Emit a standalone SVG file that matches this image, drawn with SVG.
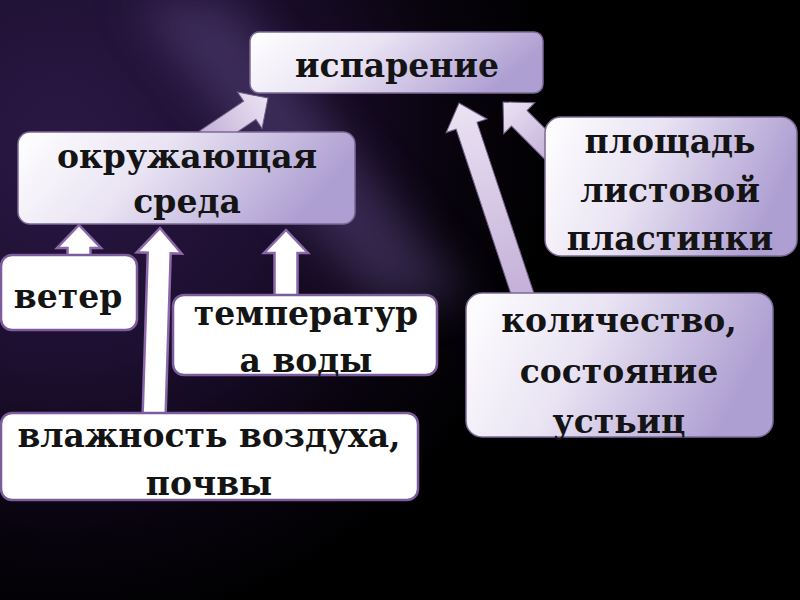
<svg xmlns="http://www.w3.org/2000/svg" width="800" height="600" viewBox="0 0 800 600">
  <defs>
    <radialGradient id="bg" gradientUnits="userSpaceOnUse" cx="60" cy="140" r="500">
      <stop offset="0" stop-color="#2a1844"/>
      <stop offset="0.45" stop-color="#1d0f30"/>
      <stop offset="0.8" stop-color="#07030c"/>
      <stop offset="1" stop-color="#000000"/>
    </radialGradient>
    <filter id="blur" x="-50%" y="-50%" width="200%" height="200%">
      <feGaussianBlur stdDeviation="22"/>
    </filter>
    <linearGradient id="lav" x1="0" y1="0" x2="1" y2="0.25">
      <stop offset="0" stop-color="#ffffff"/>
      <stop offset="0.45" stop-color="#e9e3f3"/>
      <stop offset="1" stop-color="#ae9fd2"/>
    </linearGradient>
    <linearGradient id="arr" x1="0" y1="0" x2="1" y2="0">
      <stop offset="0" stop-color="#c4afd8"/>
      <stop offset="1" stop-color="#ebe3f3"/>
    </linearGradient>
    <style>
      .lbox { fill: url(#lav); stroke: #7c6a96; stroke-width: 1.5; }
      .wbox { fill: #ffffff; stroke: #7d5c9c; stroke-width: 2.5; }
      .la { fill: url(#arr); stroke: #6e5d86; stroke-width: 1; }
      .wa { fill: #ffffff; stroke: #8a68aa; stroke-width: 2.5; stroke-linejoin: miter; }
      text { font-family: "DejaVu Serif", "Liberation Serif", serif; font-weight: bold; font-size: 33px; fill: #141414; text-anchor: middle; }
    </style>
  </defs>

  <!-- background -->
  <rect x="0" y="0" width="800" height="600" fill="#000"/>
  <rect x="0" y="0" width="800" height="600" fill="url(#bg)"/>
  <polygon points="130,0 230,0 470,300 370,300" fill="#5a4680" opacity="0.5" filter="url(#blur)"/>

  <!-- connectors -->
  <g id="connectors">
    <polygon class="la" transform="translate(268,98) rotate(-34)" points="0,0 -22,-22 -22,-11 -75,-11 -75,11 -22,11 -22,22"/>
    <polygon class="la" transform="translate(503,102) rotate(-135)" points="0,0 -23,-22 -23,-11 -75,-11 -75,11 -23,11 -23,22"/>
    <polygon class="la" transform="translate(459,103) rotate(-108.4)" points="0,0 -24,-21.5 -24,-11 -205,-11 -205,11 -24,11 -24,21.5"/>
    <polygon class="wa" transform="translate(79,225) rotate(-90)" points="0,0 -23,-22 -23,-11.5 -40,-11.5 -40,11.5 -23,11.5 -23,22"/>
    <polygon class="wa" transform="translate(160,228) rotate(-88.2)" points="0,0 -25,-22.5 -25,-11.5 -195,-11.5 -195,11.5 -25,11.5 -25,22.5"/>
    <polygon class="wa" transform="translate(286,230) rotate(-90)" points="0,0 -23,-22 -23,-11.5 -75,-11.5 -75,11.5 -23,11.5 -23,22"/>
  </g>

  <!-- nodes -->
  <g id="isparenie">
    <rect class="lbox" x="250" y="32" width="293" height="61" rx="9"/>
    <text x="397" y="77">испарение</text>
  </g>
  <g id="okruzhayushchaya-sreda">
    <rect class="lbox" x="18" y="132" width="337" height="92" rx="12"/>
    <text x="187" y="168">окружающая</text>
    <text x="187" y="213">среда</text>
  </g>
  <g id="ploshchad">
    <rect class="lbox" x="545" y="117" width="252" height="139" rx="16"/>
    <text x="670" y="153">площадь</text>
    <text x="670" y="202">листовой</text>
    <text x="670" y="250">пластинки</text>
  </g>
  <g id="kolichestvo">
    <rect class="lbox" x="466" y="293" width="307" height="144" rx="16"/>
    <text x="619" y="332">количество,</text>
    <text x="619" y="383">состояние</text>
    <text x="619" y="433">устьиц</text>
  </g>
  <g id="veter">
    <rect class="wbox" x="1" y="255" width="136" height="75" rx="11"/>
    <text x="68" y="308">ветер</text>
  </g>
  <g id="temperatura">
    <rect class="wbox" x="173" y="295" width="264" height="80" rx="11"/>
    <text x="306" y="325">температур</text>
    <text x="306" y="372">а воды</text>
  </g>
  <g id="vlazhnost">
    <rect class="wbox" x="1" y="413" width="417" height="87" rx="11"/>
    <text x="209" y="447">влажность воздуха,</text>
    <text x="209" y="495">почвы</text>
  </g>
</svg>
